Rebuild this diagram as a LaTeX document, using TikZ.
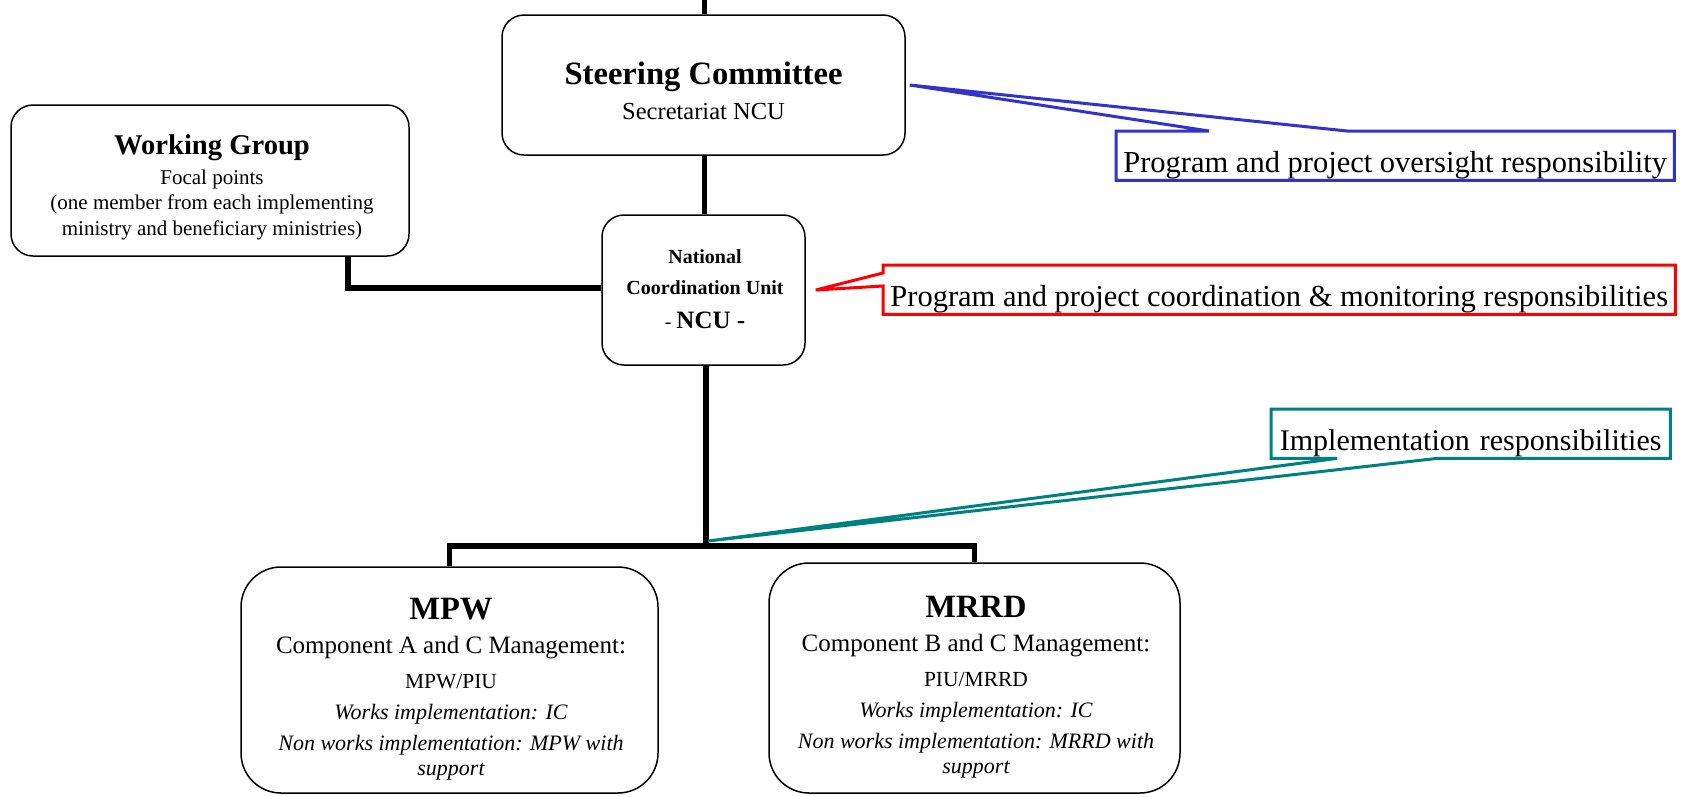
\documentclass[tikz,border=0pt]{standalone}
\usepackage{fontspec}
\setmainfont{Liberation Serif}
\usetikzlibrary{calc}
\newcommand{\fontAt}[2]{\fontsize{#1}{#2}\selectfont}
\definecolor{oversightBlue}{RGB}{51,51,204}
\definecolor{implTeal}{RGB}{0,128,128}

\begin{document}
\begin{tikzpicture}[x=1pt, y=-1pt]
  \tikzset{
    org box/.style={draw, line width=1.5pt, rounded corners=22pt, inner sep=0pt},
    org text/.style={align=center, anchor=north, inner sep=0pt},
    link/.style={line width=5.5pt, line join=miter},
    call text/.style={anchor=north west, inner sep=0pt, text height=41pt, text depth=8pt, font=\fontAt{30.5}{36}},
    call line/.style={line width=3pt, line join=miter}
  }
  \useasboundingbox (0,0) rectangle (1686,796);

  % boxes
  \node[org box, minimum width=403pt, minimum height=140pt] (steer) at (703.5,85) {};
  \node[org text, font=\fontAt{24.5}{35}] (steerText) at (703.5,61.5)
    {{\bfseries\fontAt{32.6}{35}Steering Committee}\\ Secretariat NCU};

  \node[org box, minimum width=398pt, minimum height=151pt] (wg) at (210,180.5) {};
  \node[org text, font=\fontAt{21}{25}] (wgText) at (212,134.7)
    {{\bfseries\fontAt{28.6}{25}Working Group}\\[4.5pt]
     Focal points\\
     (one member from each implementing\\[1pt]
     ministry and beneficiary ministries)};

  \node[org box, minimum width=203pt, minimum height=150pt] (ncu) at (703.5,290) {};
  \node[org text, font=\bfseries\fontAt{20}{31}] (ncuText) at (705,249.8)
    {National\\ Coordination Unit\\[3pt] {\mdseries -} {\fontAt{25}{31}NCU -}};

  \node[org box, rounded corners=40pt, minimum width=417pt, minimum height=226pt] (mpw) at (449.5,680) {};
  \node[org text, font=\fontAt{22}{25}] (mpwText) at (451,598.5)
    {{\bfseries\fontAt{32.5}{25}MPW}\\[9pt]
     {\fontAt{25}{25}Component A and C Management:}\\[10pt]
     {\fontAt{21.5}{25}MPW/PIU}\\[6pt]
     {\itshape Works implementation: IC}\\[6pt]
     {\itshape Non works implementation: MPW with}\\
     {\itshape support}};

  \node[org box, rounded corners=40pt, minimum width=411pt, minimum height=230pt] (mrrd) at (974.5,678) {};
  \node[org text, font=\fontAt{22}{25}] (mrrdText) at (976,596.5)
    {{\bfseries\fontAt{32.5}{25}MRRD}\\[9pt]
     {\fontAt{25}{25}Component B and C Management:}\\[10pt]
     {\fontAt{21.5}{25}PIU/MRRD}\\[6pt]
     {\itshape Works implementation: IC}\\[6pt]
     {\itshape Non works implementation: MRRD with}\\
     {\itshape support}};

  % links
  \coordinate (top) at (704.5,0);
  \coordinate (split) at (706,546);
  \draw[link] (top) -- (top |- steer.north);
  \draw[link] (top |- steer.south) -- (top |- ncu.north);
  \draw[link] ([xshift=138pt]wg.south) |- ([yshift=2pt]ncu.west);
  \draw[link] (split |- ncu.south) -- (split);
  \draw[link] (mpw.north) |- (split) -| (mrrd.north);

  % callouts
  \node[call text, minimum width=558pt] (oversight) at (1116,131)
    {Program and project oversight responsibility};
  \draw[call line, draw=oversightBlue] (oversight.north west) -- ++(93,0)
    -- ([xshift=4pt]steer.east) -- ($(oversight.north west)+(231,0)$)
    -- (oversight.north east) -- (oversight.south east) -- (oversight.south west) -- cycle;

  \node[call text, minimum width=792pt] (coordination) at (883,265)
    {Program and project coordination \& monitoring responsibilities};
  \draw[call line, draw=red] (coordination.north west) -- ++(0,8)
    -- ([xshift=10pt]ncu.east) -- ($(coordination.north west)+(0,21)$)
    -- (coordination.south west) -- (coordination.south east) -- (coordination.north east) -- cycle;

  \node[call text, minimum width=399pt, font=\fontAt{30}{36}] (implementation) at (1271,409)
    {Implementation\hspace{10pt}responsibilities};
  \draw[call line, draw=implTeal] (implementation.south west) -- ++(66,0)
    -- ([shift={(2,-5)}]split) -- ($(implementation.south west)+(166,0)$)
    -- (implementation.south east) -- (implementation.north east) -- (implementation.north west) -- cycle;
\end{tikzpicture}
\end{document}
